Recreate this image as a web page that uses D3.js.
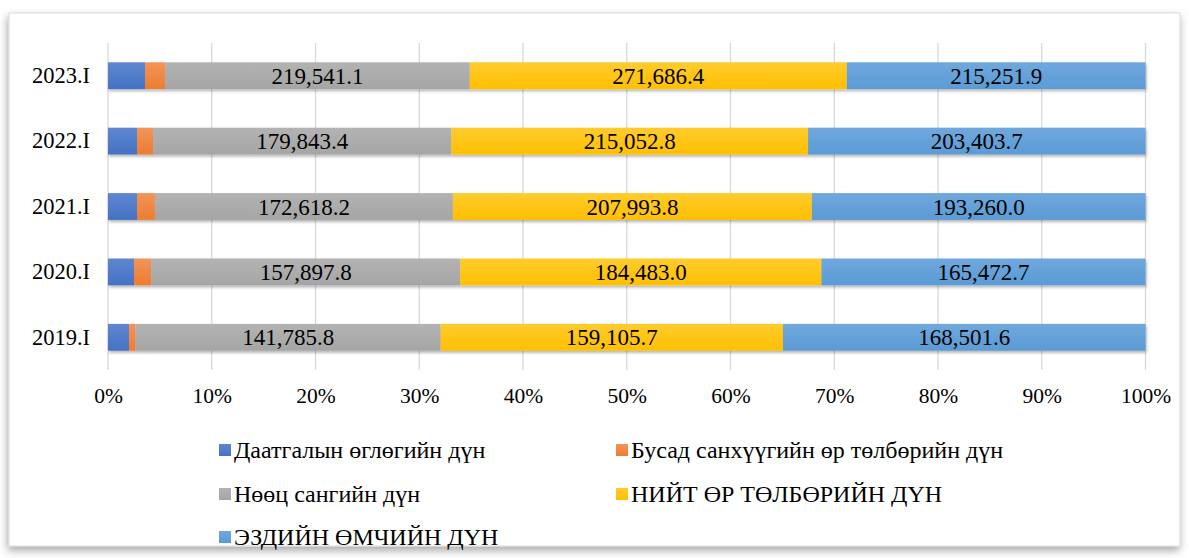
<!DOCTYPE html>
<meta charset="utf-8">
<script src="https://d3js.org/d3.v7.min.js"></script>
<style>
  body { margin: 0; background: #fff; }
  text { font-family: "Liberation Serif", "Times New Roman", serif; }
</style>
<div id="my_dataviz"></div>
<script>

// categories, bottom to top as in the picture
var years = ["2019.I", "2020.I", "2021.I", "2022.I", "2023.I"];

var daatgal  = [9750, 13300, 16800, 17500, 26700];
var busad    = [3100, 8700, 10400, 9650, 14450];
var nootsSan = [141785.8, 157897.8, 172618.2, 179843.4, 219541.1];
var niitOr   = [159105.7, 184483.0, 207993.8, 215052.8, 271686.4];
var ezdiin   = [168501.6, 165472.7, 193260.0, 203403.7, 215251.9];

var seriesNames = ["Даатгалын өглөгийн дүн", "Бусад санхүүгийн өр төлбөрийн дүн",
                   "Нөөц сангийн дүн", "НИЙТ ӨР ТӨЛБӨРИЙН ДҮН", "ЭЗДИЙН ӨМЧИЙН ДҮН"];
var seriesValues = [daatgal, busad, nootsSan, niitOr, ezdiin];
var labelled = [false, false, true, true, true];
var xTicks = [0, 0.1, 0.2, 0.3, 0.4, 0.5, 0.6, 0.7, 0.8, 0.9, 1];

var colors = ["#4472C4", "#ED7D31", "#A5A5A5", "#FFC000", "#5B9BD5"];
var lightColors = ["#5F87D0", "#F39358", "#B3B3B3", "#FFCB2E", "#6FA8DD"];

var W = 1189, H = 558;
var margin = {top: 43, left: 108, right: 1189 - 1145.5, bottom: 558 - 370};

var svg = d3.select("#my_dataviz")
  .append("svg")
    .attr("width", W)
    .attr("height", H);

var defs = svg.append("defs");

// frame shadow
var fs = defs.append("filter").attr("id", "frameShadow")
  .attr("x", "-5%").attr("y", "-5%").attr("width", "110%").attr("height", "115%");
fs.append("feDropShadow").attr("dx", -1).attr("dy", 4).attr("stdDeviation", 4)
  .attr("flood-color", "#000").attr("flood-opacity", 0.35);

var bs = defs.append("filter").attr("id", "barShadow")
  .attr("x", "-5%").attr("y", "-20%").attr("width", "110%").attr("height", "160%");
bs.append("feDropShadow").attr("dx", 1).attr("dy", 2).attr("stdDeviation", 1.5)
  .attr("flood-color", "#000").attr("flood-opacity", 0.3);

colors.forEach(function(c, i) {
  var g = defs.append("linearGradient").attr("id", "grad" + i)
    .attr("x1", 0).attr("y1", 0).attr("x2", 0).attr("y2", 1);
  g.append("stop").attr("offset", "0%").attr("stop-color", lightColors[i]);
  g.append("stop").attr("offset", "100%").attr("stop-color", c);
});

// outer frame
svg.append("rect")
  .attr("x", 9).attr("y", 13)
  .attr("width", 1171).attr("height", 533)
  .attr("fill", "#fff")
  .attr("stroke", "#d9d9d9")
  .attr("filter", "url(#frameShadow)");

// build the stacked percent table
var table = years.map(function(y, i) {
  var row = {year: y};
  var total = d3.sum(seriesValues, function(s) { return s[i]; });
  row.total = total;
  seriesValues.forEach(function(s, k) { row["s" + k] = s[i] / total; });
  return row;
});
var keys = seriesValues.map(function(s, k) { return "s" + k; });
var stacked = d3.stack().keys(keys)(table);

var x = d3.scaleLinear()
  .domain([0, 1])
  .range([margin.left, W - margin.right]);

var y = d3.scaleBand()
  .domain(years.slice().reverse())
  .range([margin.top, H - margin.bottom])
  .paddingInner(0.59)
  .paddingOuter(0.295);

// gridlines
svg.append("g")
  .selectAll("line")
  .data(xTicks)
  .enter()
  .append("line")
    .attr("x1", function(d) { return x(d); })
    .attr("x2", function(d) { return x(d); })
    .attr("y1", margin.top)
    .attr("y2", H - margin.bottom)
    .attr("stroke", "#d9d9d9")
    .attr("stroke-width", 1.3);

// x axis labels
var xAxis = svg.append("g")
  .attr("transform", "translate(0," + (H - margin.bottom + 15) + ")")
  .call(d3.axisBottom(x).tickValues(xTicks).tickFormat(d3.format(".0%")).tickSize(0));
xAxis.select(".domain").remove();
xAxis.selectAll("text")
  .attr("font-size", 21.5)
  .attr("font-family", "Liberation Serif")
  .attr("fill", "#000");

// y axis labels
var yAxis = svg.append("g")
  .attr("transform", "translate(" + (margin.left - 15) + ",0)")
  .call(d3.axisLeft(y).tickSize(0));
yAxis.select(".domain").remove();
yAxis.selectAll("text")
  .attr("font-size", 22.5)
  .attr("font-family", "Liberation Serif")
  .attr("fill", "#000");

// bars
var bars = svg.append("g").attr("filter", "url(#barShadow)");
bars.selectAll("g")
  .data(stacked)
  .enter()
  .append("g")
    .attr("fill", function(d, i) { return "url(#grad" + i + ")"; })
  .selectAll("rect")
  .data(function(d) { return d; })
  .enter()
  .append("rect")
    .attr("x", function(d) { return x(d[0]); })
    .attr("y", function(d) { return y(d.data.year); })
    .attr("width", function(d) { return x(d[1]) - x(d[0]); })
    .attr("height", y.bandwidth());

// value labels
stacked.forEach(function(layer, k) {
  if (!labelled[k]) return;
  svg.append("g")
    .selectAll("text")
    .data(layer)
    .enter()
    .append("text")
      .attr("x", function(d) { return (x(d[0]) + x(d[1])) / 2; })
      .attr("y", function(d) { return y(d.data.year) + y.bandwidth() / 2; })
      .attr("dy", "0.35em")
      .attr("text-anchor", "middle")
      .attr("font-size", 23)
      .attr("fill", "#000")
      .text(function(d, i) { return d3.format(",.1f")(seriesValues[k][i]); });
});

// legend
var legendPos = [[219, 450], [616, 450], [219, 494], [616, 494], [219, 537]];
var legend = svg.append("g");
seriesNames.forEach(function(name, i) {
  var g = legend.append("g")
    .attr("transform", "translate(" + legendPos[i][0] + "," + legendPos[i][1] + ")");
  g.append("rect")
    .attr("x", 0).attr("y", -6)
    .attr("width", 12).attr("height", 12)
    .attr("fill", "url(#grad" + i + ")");
  g.append("text")
    .attr("x", 15).attr("y", 0)
    .attr("dy", "0.35em")
    .attr("font-size", 24)
    .attr("fill", "#000")
    .text(name);
});

</script>
